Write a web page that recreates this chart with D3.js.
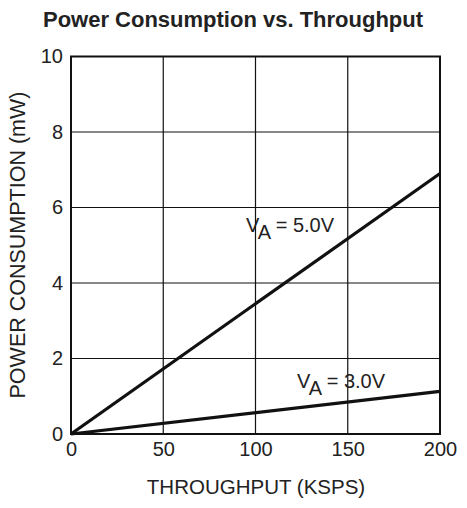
<!DOCTYPE html>
<html><head><meta charset="utf-8">
<script src="https://cdn.jsdelivr.net/npm/d3@7"></script>
<style>body{margin:0;background:#fff;} text{font-family:"Liberation Sans",Arial,sans-serif;fill:#222;}</style>
</head><body><svg id="c" width="467" height="508"></svg>
<script>
const xTicks = [0, 50, 100, 150, 200];
const yTicks = [0, 2, 4, 6, 8, 10];
const throughput = [0, 200];
const power5V = [0, 6.9];
const power3V = [0, 1.13];
const seriesLabels = ["5.0V", "3.0V"];

const svg = d3.select("#c");
const m = {l: 71, r: 440, t: 56.5, b: 434};
const x = d3.scaleLinear().domain([0, 200]).range([m.l, m.r]);
const y = d3.scaleLinear().domain([0, 10]).range([m.b, m.t]);

// grid
svg.append("g").selectAll("line.v").data(xTicks).join("line")
  .attr("x1", d => x(d)).attr("x2", d => x(d)).attr("y1", m.t).attr("y2", m.b)
  .attr("stroke", "#111").attr("stroke-width", 1.2);
svg.append("g").selectAll("line.h").data(yTicks).join("line")
  .attr("y1", d => y(d)).attr("y2", d => y(d)).attr("x1", m.l).attr("x2", m.r)
  .attr("stroke", "#111").attr("stroke-width", 1.2);
svg.append("rect").attr("x", m.l).attr("y", m.t).attr("width", m.r - m.l).attr("height", m.b - m.t)
  .attr("fill", "none").attr("stroke", "#111").attr("stroke-width", 2);

// axes labels
const xa = svg.append("g").attr("transform", `translate(0,${m.b})`)
  .call(d3.axisBottom(x).tickValues(xTicks).tickSize(0).tickPadding(8));
xa.select(".domain").remove();
xa.selectAll("text").attr("font-size", 20).attr("fill", "#222").style("font-family", "Liberation Sans, Arial, sans-serif");
const ya = svg.append("g").attr("transform", `translate(${m.l},0)`)
  .call(d3.axisLeft(y).tickValues(yTicks).tickSize(0).tickPadding(8));
ya.select(".domain").remove();
ya.selectAll("text").attr("font-size", 20).attr("fill", "#222").style("font-family", "Liberation Sans, Arial, sans-serif");

// lines
const line = d3.line().x(d => x(d[0])).y(d => y(d[1]));
[power5V, power3V].forEach(p => {
  svg.append("path").datum(throughput.map((t, i) => [t, p[i]]))
    .attr("d", line).attr("fill", "none").attr("stroke", "#111").attr("stroke-width", 3.2);
});

// series labels
function vlabel(px, py, txt) {
  const t = svg.append("text").attr("x", px).attr("y", py).attr("font-size", 20);
  t.append("tspan").text("V");
  t.append("tspan").attr("dy", 7).text("A");
  t.append("tspan").attr("dy", -7).text(" = " + txt);
}
vlabel(246, 232, seriesLabels[0]);
vlabel(297, 388, seriesLabels[1]);

// title
svg.append("text").attr("x", 233).attr("y", 27).attr("text-anchor", "middle")
  .attr("font-size", 22).attr("font-weight", "bold").text("Power Consumption vs. Throughput");
svg.append("text").attr("x", 256).attr("y", 494).attr("text-anchor", "middle")
  .attr("font-size", 20.5).text("THROUGHPUT (KSPS)");
svg.append("text").attr("transform", "translate(25,245) rotate(-90)").attr("text-anchor", "middle")
  .attr("font-size", 21.5).text("POWER CONSUMPTION (mW)");
</script></body></html>
